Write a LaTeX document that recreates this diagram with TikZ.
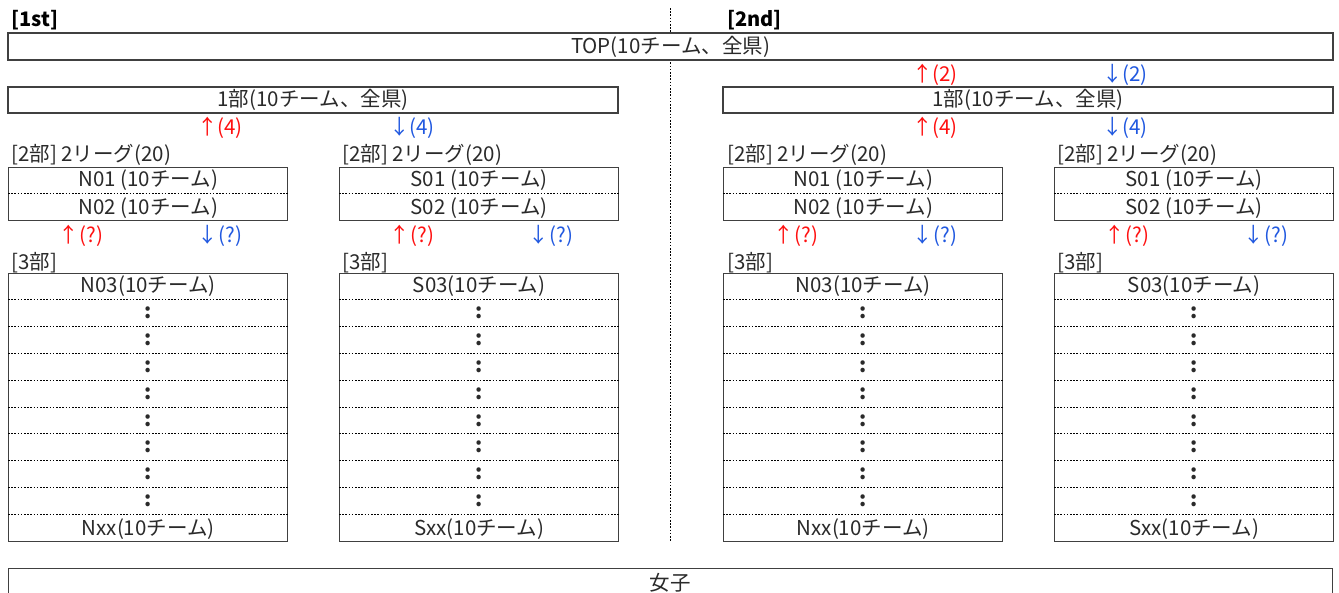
\documentclass[tikz,border=0pt]{standalone}
\usepackage{fontspec}
\setmainfont{Noto Sans CJK JP}
\newfontfamily\jpfont{Noto Sans CJK JP}
\definecolor{bordergray}{HTML}{404040}
\definecolor{txtgray}{HTML}{2A2A2A}
\definecolor{upred}{HTML}{FF1010}
\definecolor{downblue}{HTML}{2058E0}
\tikzset{
  box/.style={draw=bordergray, line width=1.3pt, fill=white, inner sep=0pt},
  sepline/.style={draw=black, line width=0.9pt, dash pattern=on 1.6pt off 1.6pt},
  txt/.style={font=\jpfont\fontsize{20.5}{23}\selectfont, text=txtgray, inner sep=0pt},
  lbl/.style={txt, anchor=west},
  hdr/.style={font=\jpfont\bfseries\fontsize{20}{23}\selectfont, text=black, inner sep=0pt, anchor=west},
  uplbl/.style={txt, text=upred},
  downlbl/.style={txt, text=downblue},
  dots/.style={txt, font=\jpfont\bfseries\fontsize{20.5}{23}\selectfont},
}
\newcommand\drawSecond[4]{% name, left x, text1, text2
  \node[box, minimum width=279pt, minimum height=53pt, anchor=north west] (#1) at (#2,167) {};
  \draw[sepline] ([yshift=-26.5pt]#1.north west) -- ([yshift=-26.5pt]#1.north east);
  \node[txt] (#1-a) at ([yshift=-13.5pt]#1.north) {#3};
  \node[txt] (#1-b) at ([yshift=13.5pt]#1.south) {#4};
  \node[uplbl] (#1-up) at ([xshift=73pt,yshift=-15pt]#1.south west) {↑(?)};
  \node[downlbl] (#1-down) at ([xshift=212pt,yshift=-15pt]#1.south west) {↓(?)};
}
\newcommand\drawThird[4]{% name, left x, top text, bottom text
  \node[box, minimum width=279pt, minimum height=268pt, anchor=north west] (#1) at (#2,273) {};
  \foreach \i in {1,...,9} {
    \draw[sepline] ([yshift=-\i*26.8pt]#1.north west) -- ([yshift=-\i*26.8pt]#1.north east);
  }
  \node[txt] (#1-top) at ([yshift=-13.4pt]#1.north) {#3};
  \foreach \i in {1,...,8} {
    \node[dots] (#1-d\i) at ([yshift=-13.4pt-\i*26.8pt]#1.north) {:};
  }
  \node[txt] (#1-bot) at ([yshift=13.4pt]#1.south) {#4};
}
\begin{document}
\begin{tikzpicture}[x=1pt, y=-1pt]
\useasboundingbox[fill=white] (0,0) rectangle (1339,592);
% vertical divider
\coordinate (vtop) at (670,8);
\coordinate (vbot) at (670,542);
\draw[sepline] (vtop) -- (vbot);
% headers
\node[hdr] (h1) at (11,20) {[1st]};
\node[hdr] (h2) at (727,20) {[2nd]};
% TOP
\node[box, minimum width=1325pt, minimum height=27pt] (top) at (670.5,46.5) {};
\node[txt] (toptxt) at (top.center) {TOP(10チーム、全県)};
% 1部
\node[box, minimum width=610pt, minimum height=26pt] (d1L) at (313,100) {};
\node[txt] (d1Ltxt) at (d1L.center) {1部(10チーム、全県)};
\node[box, minimum width=610pt, minimum height=26pt] (d1R) at (1028,100) {};
\node[txt] (d1Rtxt) at (d1R.center) {1部(10チーム、全県)};
% arrows between TOP and 1部 (2nd)
\node[uplbl] (u2) at (935,75) {↑(2)};
\node[downlbl] (w2) at (1125,75) {↓(2)};
% arrows between 1部 and 2部
\node[uplbl] (u4L) at (220,128) {↑(4)};
\node[downlbl] (w4L) at (412,128) {↓(4)};
\node[uplbl] (u4R) at (935,128) {↑(4)};
\node[downlbl] (w4R) at (1125,128) {↓(4)};
% 2部 labels
\node[lbl] (l2a) at (11,155) {[2部] 2リーグ(20)};
\node[lbl] (l2b) at (342,155) {[2部] 2リーグ(20)};
\node[lbl] (l2c) at (727,155) {[2部] 2リーグ(20)};
\node[lbl] (l2d) at (1057,155) {[2部] 2リーグ(20)};
% 2部 boxes
\drawSecond{nL}{8}{N01 (10チーム)}{N02 (10チーム)}
\drawSecond{sL}{339}{S01 (10チーム)}{S02 (10チーム)}
\drawSecond{nR}{723}{N01 (10チーム)}{N02 (10チーム)}
\drawSecond{sR}{1054}{S01 (10チーム)}{S02 (10チーム)}
% 3部 labels
\node[lbl] (l3a) at (11,263) {[3部]};
\node[lbl] (l3b) at (342,263) {[3部]};
\node[lbl] (l3c) at (727,263) {[3部]};
\node[lbl] (l3d) at (1057,263) {[3部]};
% 3部 boxes
\drawThird{tnL}{8}{N03(10チーム)}{Nxx(10チーム)}
\drawThird{tsL}{339}{S03(10チーム)}{Sxx(10チーム)}
\drawThird{tnR}{723}{N03(10チーム)}{Nxx(10チーム)}
\drawThird{tsR}{1054}{S03(10チーム)}{Sxx(10チーム)}
% 女子
\node[box, minimum width=1324pt, minimum height=40pt, anchor=north west] (women) at (8,568) {};
\node[txt] (womentxt) at (670,583) {女子};
\end{tikzpicture}
\end{document}
